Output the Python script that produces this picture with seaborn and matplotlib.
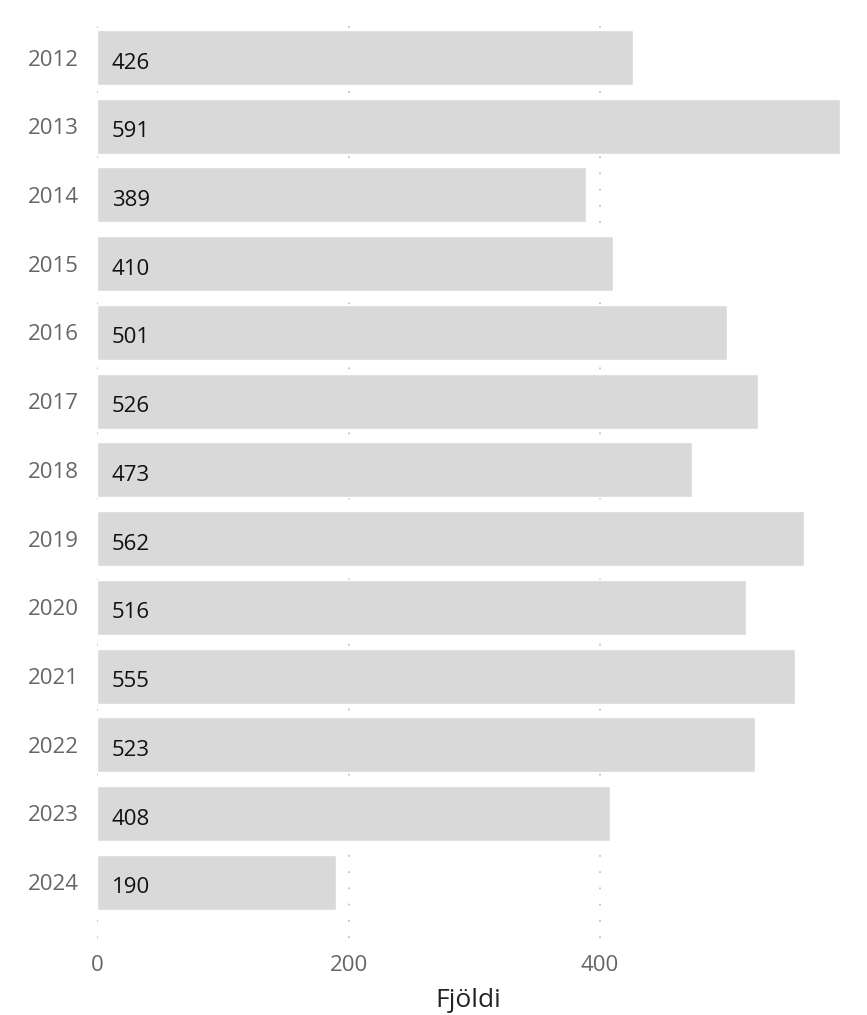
import pandas as pd
import matplotlib
matplotlib.use('Agg')
import matplotlib.pyplot as plt
import seaborn as sns

years = ['2012', '2013', '2014', '2015', '2016', '2017', '2018',
         '2019', '2020', '2021', '2022', '2023', '2024']
counts = [426, 591, 389, 410, 501, 526, 473, 562, 516, 555, 523, 408, 190]

df = pd.DataFrame({'ar': years, 'fjoldi': counts})

sns.set_style('white')
plt.rcParams['font.family'] = ['Open Sans', 'DejaVu Sans']

fig = plt.figure(figsize=(8.67, 10.15), dpi=100)
ax = fig.add_axes([0.112, 0.076, 0.857, 0.912])

sns.barplot(data=df, y='ar', x='fjoldi', color='#d9d9d9', saturation=1,
            width=0.8, orient='h', ax=ax, zorder=2)

# value labels just inside the bar start
for i, v in enumerate(counts):
    ax.annotate(str(v), xy=(0, i), xytext=(10.5, -4), textcoords='offset points',
                va='center', ha='left', fontsize=16, color='#111111', zorder=3)

ax.set_xlim(0, 591)
ax.set_ylim(12.81, -0.66)
ax.set_xticks([0, 200, 400])
ax.grid(axis='x', color='#c4c4c4', linestyle=(0, (1, 8)), linewidth=1.3, zorder=0)
ax.grid(axis='y', visible=False)
ax.set_axisbelow(True)
for s in ax.spines.values():
    s.set_visible(False)

ax.tick_params(axis='both', length=0, labelsize=16, labelcolor='#666666')
ax.tick_params(axis='x', pad=12)
ax.tick_params(axis='y', pad=13)
ax.set_ylabel('')
ax.set_xlabel('Fjöldi', fontsize=19, color='#252423', labelpad=9)

fig.savefig('out.png', dpi=100)
